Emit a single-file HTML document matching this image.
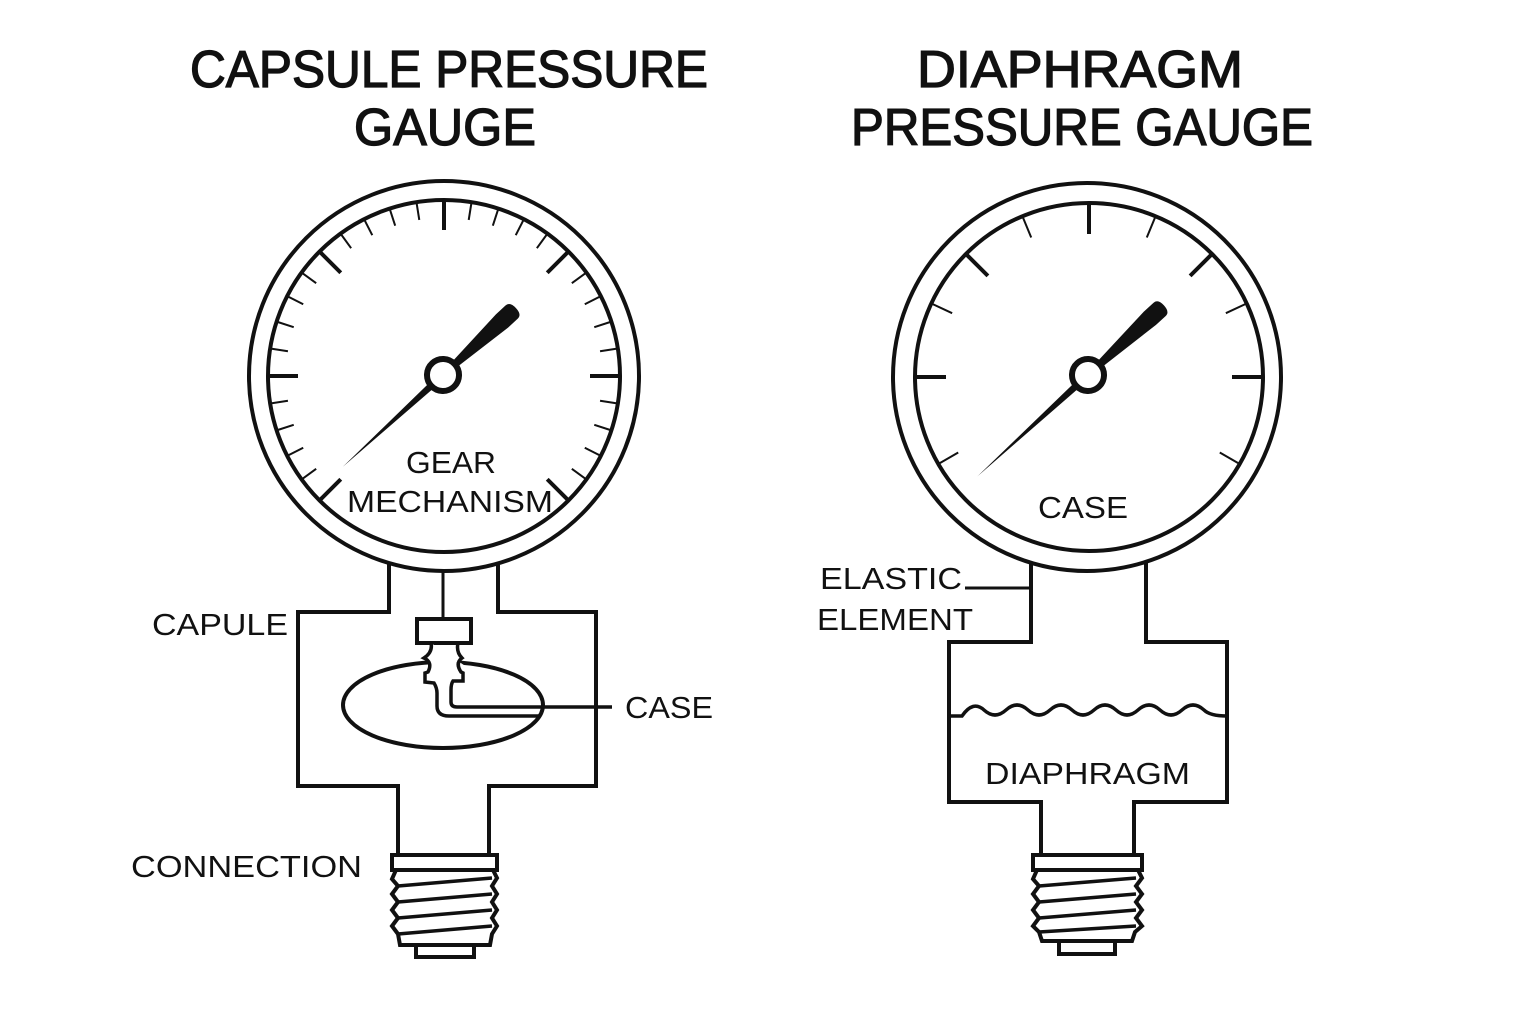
<!DOCTYPE html>
<html><head><meta charset="utf-8"><style>
html,body{margin:0;padding:0;background:#fff;}
svg{display:block;}
text{font-family:"Liberation Sans",sans-serif;fill:#111;}
.t{stroke:#111;stroke-width:1.3px;}
</style></head><body>
<svg width="1536" height="1024" viewBox="0 0 1536 1024" xmlns="http://www.w3.org/2000/svg">
<rect width="1536" height="1024" fill="#fff"/>
<!-- Titles -->
<text class="t" x="449" y="87" font-size="52" text-anchor="middle" textLength="518" lengthAdjust="spacingAndGlyphs">CAPSULE PRESSURE</text>
<text class="t" x="445" y="145" font-size="52" text-anchor="middle" textLength="182" lengthAdjust="spacingAndGlyphs">GAUGE</text>
<text class="t" x="1080" y="87" font-size="52" text-anchor="middle" textLength="326" lengthAdjust="spacingAndGlyphs">DIAPHRAGM</text>
<text class="t" x="1082" y="145" font-size="52" text-anchor="middle" textLength="462" lengthAdjust="spacingAndGlyphs">PRESSURE GAUGE</text>

<g fill="none" stroke="#111" stroke-width="4" stroke-linejoin="miter">
<!-- LEFT BODY -->
<path d="M389 558 V612 H298 V786 H398 V855 M489 855 V786 H596 V612 H498 V558" />
<ellipse cx="443" cy="705" rx="100" ry="43" fill="#fff"/>
<rect x="417" y="619" width="54" height="24" fill="#fff"/>
<line x1="443" y1="530" x2="443" y2="619" stroke-width="3"/>
<path d="M431 643 Q433 652 424 658 Q433 662 428 672 L425 673 L425 682 L434 683 Q437 688 437 693 L437 706 Q437 716 449 716 L540 716" fill="#fff" stroke-width="3.5"/>
<path d="M458 643 Q456 652 462 658 Q455 663 461 672 L463 673 L463 681 L453 681 Q451 684 451 690 L451 702 Q451 707 457 707 L612 707" stroke-width="3.5"/>
<!-- left thread -->
<rect x="392" y="855" width="105" height="15" fill="#fff"/>
<path d="M396 870 L392 879 L398 886 L392 894 L398 902 L392 910 L398 918 L392 926 L398 934 L400 945 H490 L492 934 L497 926 L492 918 L497 910 L492 902 L497 894 L492 886 L497 878 L493 870"/>
<path d="M398 886 L492 878 M398 902 L492 894 M398 918 L492 910 M398 934 L492 926" stroke-width="3.5"/>
<rect x="416" y="945" width="58" height="12" fill="#fff"/>

<!-- RIGHT BODY -->
<path d="M1031 560 V642 H949 V802 H1041 V855 M1134 855 V802 H1227 V642 H1146 V560"/>
<path d="M949 716 H962 Q973 700 984 710 T1006 710 T1028 710 T1050 710 T1072 710 T1094 710 T1116 710 T1138 710 T1160 710 T1182 710 T1204 710 Q1210 716 1227 716" stroke-width="3.5"/>
<line x1="965" y1="588" x2="1031" y2="588" stroke-width="3"/>
<rect x="1033" y="855" width="109" height="15" fill="#fff"/>
<path d="M1037 870 L1033 879 L1039 886 L1033 894 L1039 902 L1033 910 L1039 918 L1033 926 L1039 932 L1042 941 H1132 L1135 932 L1142 926 L1136 918 L1142 910 L1136 902 L1142 894 L1136 886 L1142 878 L1138 870"/>
<path d="M1039 886 L1136 878 M1039 902 L1136 894 M1039 918 L1136 910 M1039 932 L1136 926" stroke-width="3.5"/>
<rect x="1059" y="941" width="56" height="13" fill="#fff"/>

<!-- LEFT GAUGE -->
<circle cx="444" cy="376" r="195" fill="#fff"/>
<circle cx="444" cy="376" r="176"/>
</g>

<g stroke="#111" fill="none">
<g stroke-width="4">
<line x1="444" y1="200" x2="444" y2="230" transform="rotate(-135 444 376)"/>
<line x1="444" y1="200" x2="444" y2="230" transform="rotate(-90 444 376)"/>
<line x1="444" y1="200" x2="444" y2="230" transform="rotate(-45 444 376)"/>
<line x1="444" y1="200" x2="444" y2="230" transform="rotate(0 444 376)"/>
<line x1="444" y1="200" x2="444" y2="230" transform="rotate(45 444 376)"/>
<line x1="444" y1="200" x2="444" y2="230" transform="rotate(90 444 376)"/>
<line x1="444" y1="200" x2="444" y2="230" transform="rotate(135 444 376)"/>
</g>
<g stroke-width="2">
<line x1="444" y1="200" x2="444" y2="218" transform="rotate(-126 444 376)"/>
<line x1="444" y1="200" x2="444" y2="218" transform="rotate(-117 444 376)"/>
<line x1="444" y1="200" x2="444" y2="218" transform="rotate(-108 444 376)"/>
<line x1="444" y1="200" x2="444" y2="218" transform="rotate(-99 444 376)"/>
<line x1="444" y1="200" x2="444" y2="218" transform="rotate(-81 444 376)"/>
<line x1="444" y1="200" x2="444" y2="218" transform="rotate(-72 444 376)"/>
<line x1="444" y1="200" x2="444" y2="218" transform="rotate(-63 444 376)"/>
<line x1="444" y1="200" x2="444" y2="218" transform="rotate(-54 444 376)"/>
<line x1="444" y1="200" x2="444" y2="218" transform="rotate(-36 444 376)"/>
<line x1="444" y1="200" x2="444" y2="218" transform="rotate(-27 444 376)"/>
<line x1="444" y1="200" x2="444" y2="218" transform="rotate(-18 444 376)"/>
<line x1="444" y1="200" x2="444" y2="218" transform="rotate(-9 444 376)"/>
<line x1="444" y1="200" x2="444" y2="218" transform="rotate(9 444 376)"/>
<line x1="444" y1="200" x2="444" y2="218" transform="rotate(18 444 376)"/>
<line x1="444" y1="200" x2="444" y2="218" transform="rotate(27 444 376)"/>
<line x1="444" y1="200" x2="444" y2="218" transform="rotate(36 444 376)"/>
<line x1="444" y1="200" x2="444" y2="218" transform="rotate(54 444 376)"/>
<line x1="444" y1="200" x2="444" y2="218" transform="rotate(63 444 376)"/>
<line x1="444" y1="200" x2="444" y2="218" transform="rotate(72 444 376)"/>
<line x1="444" y1="200" x2="444" y2="218" transform="rotate(81 444 376)"/>
<line x1="444" y1="200" x2="444" y2="218" transform="rotate(99 444 376)"/>
<line x1="444" y1="200" x2="444" y2="218" transform="rotate(108 444 376)"/>
<line x1="444" y1="200" x2="444" y2="218" transform="rotate(117 444 376)"/>
<line x1="444" y1="200" x2="444" y2="218" transform="rotate(126 444 376)"/>
</g>
</g>
<!-- left needle -->
<g transform="translate(443 375) rotate(47.5)" fill="#111">
<path d="M-3.5 -14 L-9 -80 L-9 -93 Q-9 -99 0 -99 Q9 -99 9 -93 L9 -80 L3.5 -14 Z"/>
<path d="M-3.5 14 L0 136 L3.5 14 Z"/>
<circle cx="0" cy="0" r="16" fill="#fff" stroke="#111" stroke-width="6"/>
</g>

<!-- RIGHT GAUGE -->
<g fill="none" stroke="#111" stroke-width="4">
<circle cx="1087" cy="377" r="194" fill="#fff"/>
<circle cx="1089" cy="377" r="174"/>
<g>
<line x1="1089" y1="204" x2="1089" y2="234" transform="rotate(-90 1089 377)"/>
<line x1="1089" y1="204" x2="1089" y2="234" transform="rotate(-45 1089 377)"/>
<line x1="1089" y1="204" x2="1089" y2="234" transform="rotate(0 1089 377)"/>
<line x1="1089" y1="204" x2="1089" y2="234" transform="rotate(45 1089 377)"/>
<line x1="1089" y1="204" x2="1089" y2="234" transform="rotate(90 1089 377)"/>
</g>
<g stroke-width="2">
<line x1="1089" y1="204" x2="1089" y2="226" transform="rotate(-22.5 1089 377)"/>
<line x1="1089" y1="204" x2="1089" y2="226" transform="rotate(22.5 1089 377)"/>
<line x1="1089" y1="204" x2="1089" y2="226" transform="rotate(-65 1089 377)"/>
<line x1="1089" y1="204" x2="1089" y2="226" transform="rotate(65 1089 377)"/>
<line x1="1089" y1="204" x2="1089" y2="226" transform="rotate(-120 1089 377)"/>
<line x1="1089" y1="204" x2="1089" y2="226" transform="rotate(120 1089 377)"/>
</g>
</g>
<g transform="translate(1088 375) rotate(47.5)" fill="#111">
<path d="M-3.5 -14 L-9 -84 L-9 -97 Q-9 -103 0 -103 Q9 -103 9 -97 L9 -84 L3.5 -14 Z"/>
<path d="M-3.5 14 L0 150 L3.5 14 Z"/>
<circle cx="0" cy="0" r="16" fill="#fff" stroke="#111" stroke-width="6"/>
</g>

<!-- Labels -->
<text x="451" y="473" font-size="31" text-anchor="middle" textLength="90" lengthAdjust="spacingAndGlyphs">GEAR</text>
<text x="450" y="512" font-size="31" text-anchor="middle" textLength="206" lengthAdjust="spacingAndGlyphs">MECHANISM</text>
<text x="152" y="635" font-size="31" textLength="136" lengthAdjust="spacingAndGlyphs">CAPULE</text>
<text x="625" y="718" font-size="31" textLength="88" lengthAdjust="spacingAndGlyphs">CASE</text>
<text x="131" y="877" font-size="31" textLength="231" lengthAdjust="spacingAndGlyphs">CONNECTION</text>
<text x="1083" y="518" font-size="31" text-anchor="middle" textLength="90" lengthAdjust="spacingAndGlyphs">CASE</text>
<text x="820" y="589" font-size="31" textLength="142" lengthAdjust="spacingAndGlyphs">ELASTIC</text>
<text x="817" y="630" font-size="31" textLength="156" lengthAdjust="spacingAndGlyphs">ELEMENT</text>
<text x="985" y="784" font-size="31" textLength="205" lengthAdjust="spacingAndGlyphs">DIAPHRAGM</text>
</svg>
</body></html>
